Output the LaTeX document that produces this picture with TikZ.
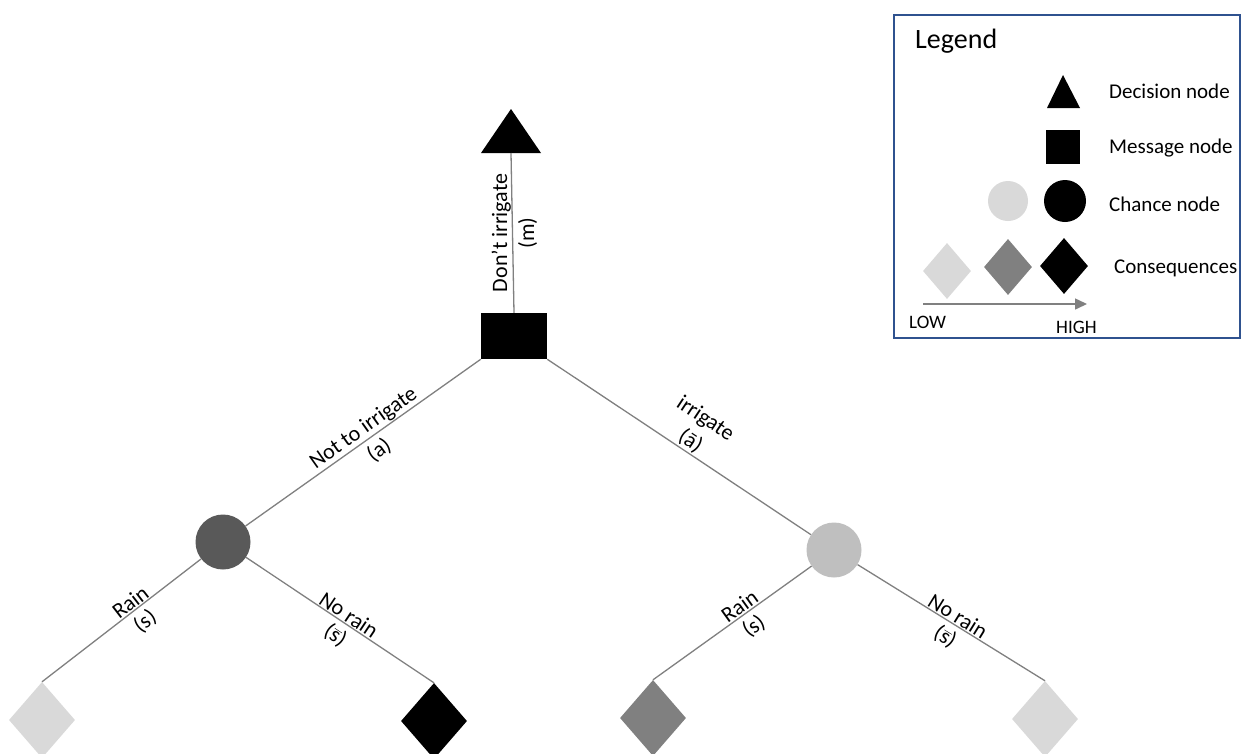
\documentclass[tikz,border=0pt]{standalone}
\usepackage{fontspec}
\setmainfont{Carlito}
\usetikzlibrary{shapes.geometric,arrows.meta}
\definecolor{edgegray}{HTML}{808080}
\definecolor{darkc}{HTML}{595959}
\definecolor{lightc}{HTML}{BFBFBF}
\definecolor{paleg}{HTML}{D9D9D9}
\definecolor{midg}{HTML}{808080}
\definecolor{legblue}{HTML}{2F528F}
\newcommand{\sbar}{\ensuremath{\overline{\hbox{s}}}}
\begin{document}
\begin{tikzpicture}[x=1pt,y=-1pt,
  conn/.style={draw=edgegray, line width=1.3pt},
  labtxt/.style={font=\fontsize{22}{27}\selectfont},
  elabA/.style={labtxt, sloped, anchor=south, inner sep=1pt},
  elabB/.style={labtxt, sloped, anchor=north, inner sep=5pt},
  chance/.style={circle, minimum size=55pt, inner sep=0pt},
  conseq/.style={diamond, minimum width=66pt, minimum height=76pt, inner sep=0pt},
  legdia/.style={diamond, minimum width=48pt, minimum height=56pt, inner sep=0pt},
  leglab/.style={font=\fontsize{21}{25}\selectfont, anchor=base west, inner sep=0pt},
  lowhigh/.style={font=\fontsize{19}{23}\selectfont, anchor=base west, inner sep=0pt}]
\useasboundingbox (0,0) rectangle (1248,753);
\fill[white] (0,0) rectangle (1248,753);

% main tree
\fill (511,109) -- (541,153) -- (481,153) -- cycle;
\coordinate (tri) at (511,153);
\node[rectangle, fill=black, minimum width=66pt, minimum height=46pt, inner sep=0pt] (sq) at (514,336) {};
\node[chance, fill=darkc] (c1) at (223,542) {};
\node[chance, fill=lightc] (c2) at (834,550) {};
\node[conseq, fill=paleg] (d1) at (42,720) {};
\node[conseq, fill=black] (d2) at (434,721) {};
\node[conseq, fill=midg] (d3) at (653,718) {};
\node[conseq, fill=paleg] (d4) at (1045,719) {};

\draw[conn] (sq.north) -- (tri)
  node[labtxt, rotate=90, anchor=south, inner sep=1pt, midway] {Don’t irrigate}
  node[labtxt, rotate=90, anchor=north, inner sep=5pt, midway] {(m)};
\draw[conn] (c1) -- (sq.south west)
  node[elabA, pos=0.53] {Not to irrigate}
  node[elabB, pos=0.53] {(a)};
\draw[conn] (sq.south east) -- (c2)
  node[elabA, align=center, pos=0.52] {irrigate\\(ā)};
\draw[conn] (d1.north) -- (c1)
  node[elabA, pos=0.59] {Rain}
  node[elabB, pos=0.59] {(s)};
\draw[conn] (c1) -- (d2.north)
  node[elabA, pos=0.52] {No rain}
  node[elabB, pos=0.52] {(\sbar)};
\draw[conn] (d3.north) -- (c2)
  node[elabA, pos=0.58] {Rain}
  node[elabB, pos=0.58] {(s)};
\draw[conn] (c2) -- (d4.north)
  node[elabA, pos=0.51] {No rain}
  node[elabB, pos=0.51] {(\sbar)};

% legend
\draw[legblue, line width=1.5pt] (894,15) rectangle (1240,338);
\node[font=\fontsize{28}{32}\selectfont, anchor=base west, inner sep=0pt] (legtitle) at (915,48) {Legend};
\fill (1063,75) -- (1080,108) -- (1047,108) -- cycle;
\fill (1046,130) rectangle (1080,164);
\node[circle, fill=paleg, minimum size=40pt, inner sep=0pt] (lc1) at (1008,201) {};
\node[circle, fill=black, minimum size=42pt, inner sep=0pt] (lc2) at (1065,201) {};
\node[legdia, fill=paleg] (ld1) at (947,271) {};
\node[legdia, fill=midg] (ld2) at (1008,267) {};
\node[legdia, fill=black] (ld3) at (1064,266) {};
\coordinate (lowend) at (923,304);
\coordinate (highend) at (1087,304);
\draw[draw=edgegray, line width=1.5pt, -{Triangle[length=12pt,width=11pt]}, fill=edgegray] (lowend) -- (highend);
\node[leglab] (t1) at (1109,98) {Decision node};
\node[leglab] (t2) at (1109,153) {Message node};
\node[leglab] (t3) at (1109,211) {Chance node};
\node[leglab] (t4) at (1114,273) {Consequences};
\node[lowhigh] (low) at (909,328) {LOW};
\node[lowhigh] (high) at (1056,333) {HIGH};
\end{tikzpicture}
\end{document}
